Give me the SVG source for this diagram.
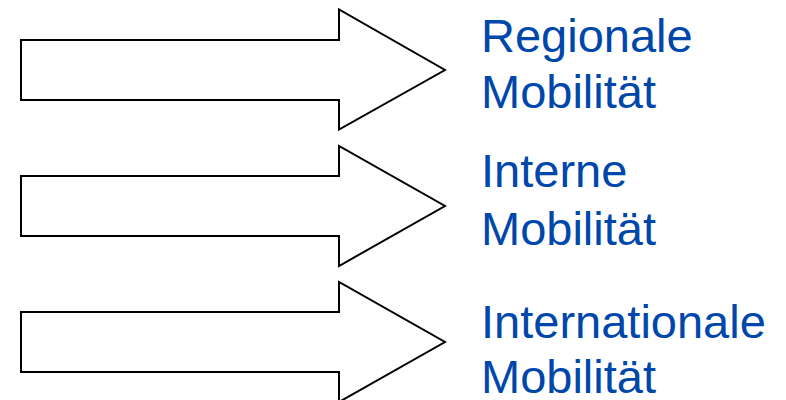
<svg xmlns="http://www.w3.org/2000/svg" width="786" height="400" viewBox="0 0 786 400">
  <style>
    .arrow { fill: #ffffff; stroke: #000000; stroke-width: 2; stroke-linejoin: miter; }
    .label { font-family: "Liberation Sans", Arial, sans-serif; font-size: 47px; fill: #0047ab; }
  </style>
  <rect width="786" height="400" fill="#ffffff"/>

  <!-- block arrows -->
  <g id="arrow-regional">
    <polygon class="arrow" points="21,40 339,40 339,9.5 445,70 339,129.5 339,100 21,100"/>
  </g>
  <g id="arrow-intern">
    <polygon class="arrow" points="21,176 339,176 339,146 445,206 339,266 339,236 21,236"/>
  </g>
  <g id="arrow-international">
    <polygon class="arrow" points="21,312 339,312 339,282 445,342 339,402 339,372 21,372"/>
  </g>

  <!-- labels -->
  <g id="label-regional">
    <text class="label" x="481" y="51.7">Regionale</text>
    <text class="label" x="481" y="108.3">Mobilität</text>
  </g>
  <g id="label-intern">
    <text class="label" x="481" y="186.7">Interne</text>
    <text class="label" x="481" y="245">Mobilität</text>
  </g>
  <g id="label-international">
    <text class="label" x="481" y="338.3">Internationale</text>
    <text class="label" x="481" y="393.3">Mobilität</text>
  </g>
</svg>
